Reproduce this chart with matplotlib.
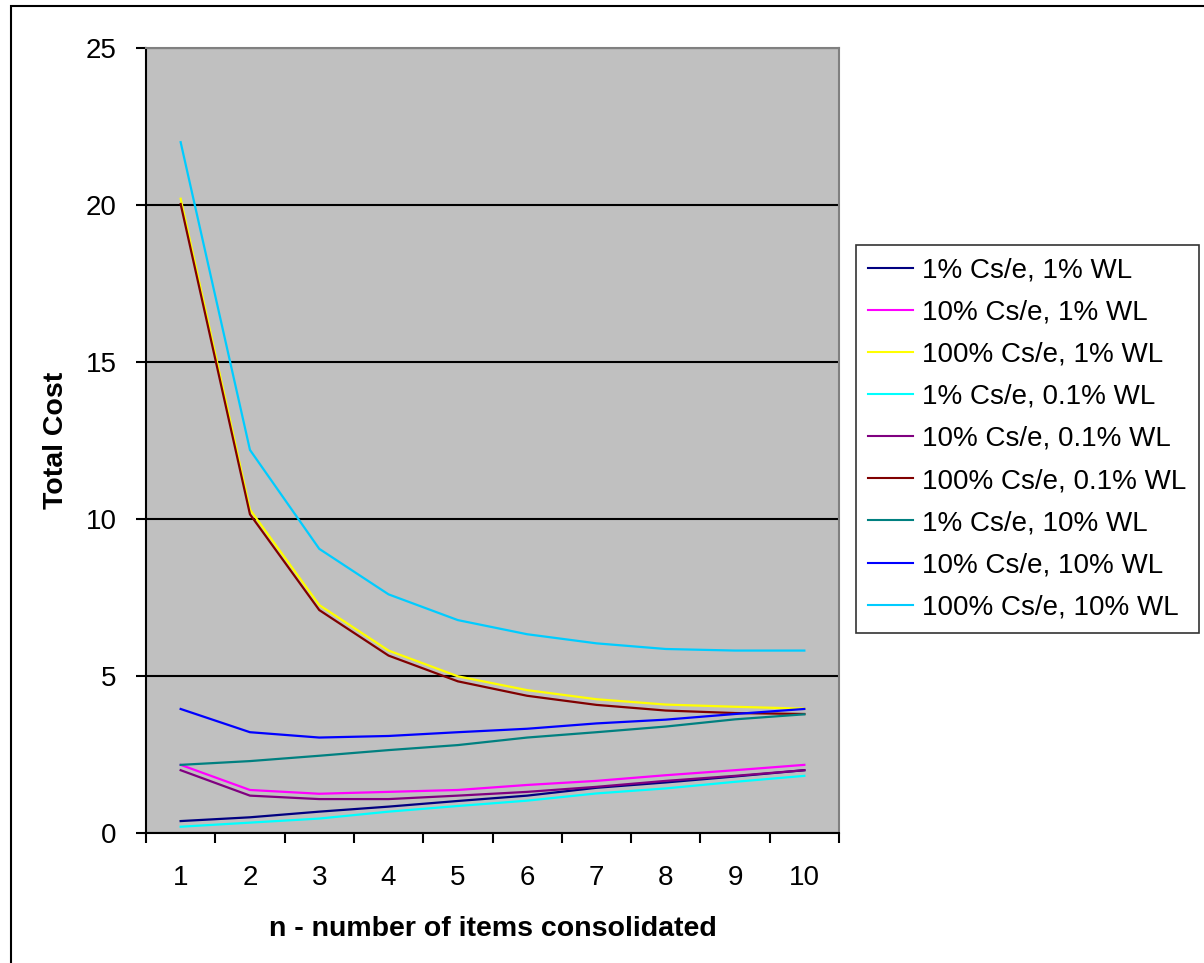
import numpy as np
import matplotlib.pyplot as plt
from matplotlib.patches import Rectangle

plt.rcParams['font.family'] = ['Liberation Sans', 'DejaVu Sans']

n_items = list(range(1, 11))

labels = [
    "1% Cs/e, 1% WL",
    "10% Cs/e, 1% WL",
    "100% Cs/e, 1% WL",
    "1% Cs/e, 0.1% WL",
    "10% Cs/e, 0.1% WL",
    "100% Cs/e, 0.1% WL",
    "1% Cs/e, 10% WL",
    "10% Cs/e, 10% WL",
    "100% Cs/e, 10% WL",
]

cs1_wl1 = [0.38, 0.50, 0.68, 0.84, 1.02, 1.19, 1.44, 1.61, 1.80, 2.00]
cs10_wl1 = [2.17, 1.37, 1.25, 1.31, 1.37, 1.53, 1.66, 1.84, 2.00, 2.17]
cs100_wl1 = [20.2, 10.3, 7.26, 5.81, 4.99, 4.55, 4.26, 4.09, 4.02, 3.96]
cs1_wl01 = [0.20, 0.33, 0.46, 0.68, 0.86, 1.03, 1.26, 1.42, 1.63, 1.82]
cs10_wl01 = [2.00, 1.19, 1.08, 1.08, 1.19, 1.31, 1.47, 1.66, 1.82, 2.00]
cs100_wl01 = [20.03, 10.15, 7.10, 5.65, 4.83, 4.37, 4.08, 3.90, 3.82, 3.79]
cs1_wl10 = [2.17, 2.29, 2.46, 2.64, 2.80, 3.04, 3.21, 3.39, 3.62, 3.78]
cs10_wl10 = [3.95, 3.21, 3.04, 3.09, 3.21, 3.32, 3.49, 3.61, 3.79, 3.95]
cs100_wl10 = [22.0, 12.2, 9.05, 7.60, 6.78, 6.33, 6.04, 5.86, 5.81, 5.81]

series = [cs1_wl1, cs10_wl1, cs100_wl1, cs1_wl01, cs10_wl01,
          cs100_wl01, cs1_wl10, cs10_wl10, cs100_wl10]
colors = ["#000080", "#FF00FF", "#FFFF00", "#00FFFF", "#800080",
          "#800000", "#008080", "#0000FF", "#00CCFF"]

fig = plt.figure(figsize=(12.04, 9.63), dpi=100)
# outer chart border (right and bottom edges fall outside the image)
fig.patches.append(Rectangle((11 / 1204, -0.1), 1.1, 1.1 - 6 / 963, transform=fig.transFigure,
                             fill=False, edgecolor="black", linewidth=1.5))

ax = fig.add_axes([146 / 1204, 1 - 833 / 963, 693 / 1204, 785 / 963])
ax.set_facecolor("#C0C0C0")

x = np.arange(len(n_items))
for vals, col, lab in zip(series, colors, labels):
    ax.plot(x, vals, color=col, linewidth=1.6, label=lab)

ax.set_xlim(-0.5, len(n_items) - 0.5)
ax.set_ylim(0, 25)
ax.set_yticks([0, 5, 10, 15, 20, 25])
ax.set_xticks(x)
ax.set_xticklabels([str(v) for v in n_items])
ax.set_xticks(np.arange(-0.5, len(n_items)), minor=True)
ax.tick_params(axis="x", which="major", length=0, labelsize=20, pad=23)
ax.tick_params(axis="x", which="minor", length=7, width=1.5, direction="out")
ax.tick_params(axis="y", length=7, width=1.5, direction="out", labelsize=20, pad=14)

ax.yaxis.grid(True, color="black", linewidth=1.5)
ax.set_axisbelow(True)
for s in ["top", "right"]:
    ax.spines[s].set_color("#808080")
    ax.spines[s].set_linewidth(1.5)
for s in ["left", "bottom"]:
    ax.spines[s].set_color("black")
    ax.spines[s].set_linewidth(1.5)

ax.set_xlabel("n - number of items consolidated", fontsize=20.5, fontweight="bold", labelpad=18)
ax.set_ylabel("Total Cost", fontsize=20.5, fontweight="bold", labelpad=12)

leg = ax.legend(loc="upper right", bbox_to_anchor=(1199 / 1204, 1 - 245 / 963),
                bbox_transform=fig.transFigure, fontsize=20, frameon=True,
                fancybox=False, handlelength=1.6, handletextpad=0.35,
                labelspacing=0.58, borderpad=0.45, borderaxespad=0)
leg.get_frame().set_edgecolor("black")
leg.get_frame().set_linewidth(1.2)
for line in leg.get_lines():
    line.set_linewidth(1.5)

fig.savefig("out.png", dpi=100)
